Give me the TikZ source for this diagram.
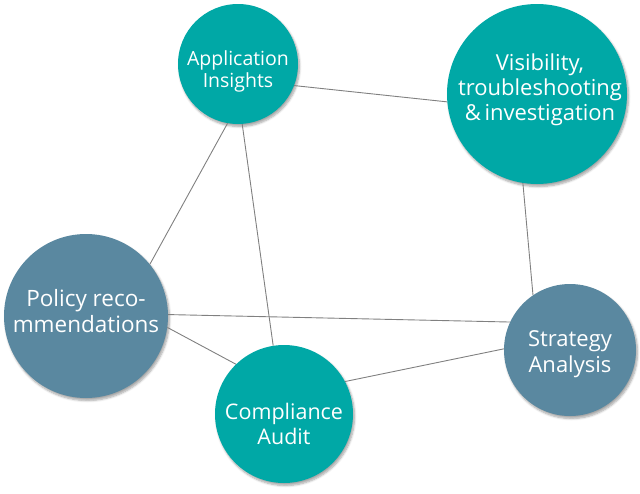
\documentclass[tikz,border=0pt]{standalone}
\usepackage{fontspec}
\setmainfont{Open Sans}
\usetikzlibrary{shadows.blur}
\definecolor{teal1}{RGB}{0,168,166}
\definecolor{steel1}{RGB}{90,136,160}
\definecolor{edge1}{RGB}{128,128,128}
\begin{document}
\begin{tikzpicture}[x=1pt,y=-1pt,
  bubble/.style={circle,inner sep=0pt,blur shadow={shadow xshift=1.5pt,shadow yshift=-2.5pt,shadow blur steps=6,shadow opacity=35}},
  tealb/.style={bubble,fill=teal1},
  steelb/.style={bubble,fill=steel1},
  lbl/.style={text=white,align=center,inner sep=0pt},
  link/.style={draw=edge1,line width=0.9pt}]
\useasboundingbox (0,0) rectangle (640,493);
\node[tealb,minimum size=120pt] (app) at (238,64) {};
\node[tealb,minimum size=180pt] (vis) at (537,94) {};
\node[steelb,minimum size=164pt] (pol) at (86,316) {};
\node[tealb,minimum size=138pt] (comp) at (284,414) {};
\node[steelb,minimum size=132pt] (str) at (570,350) {};
\draw[link] (app.-21) -- (vis.185.8);
\draw[link] (vis.261.7) -- (str.124.6);
\draw[link] (app.-86) -- (comp.99.9);
\draw[link] (app.260.5) -- (pol.39.4);
\draw[link] (pol.1.4) -- (str.155.7);
\draw[link] (pol.-8.2) -- (comp.134.4);
\draw[link] (comp.28.4) -- (str.179);
\node[lbl,font=\fontsize{19.5}{22}\selectfont] (appt) at (238,71) {Application\\Insights};
\node[lbl,font=\fontsize{22}{25}\selectfont] (vist) at (540,90) {Visibility,\\troubleshooting\\\&\,investigation};
\node[lbl,font=\fontsize{22.5}{26}\selectfont] (polt) at (86,311.5) {Policy reco-\\mmendations};
\node[lbl,font=\fontsize{21.5}{25}\selectfont] (compt) at (284,424) {Compliance\\Audit};
\node[lbl,font=\fontsize{22}{26}\selectfont] (strt) at (570,354) {Strategy\\Analysis};
\end{tikzpicture}
\end{document}
